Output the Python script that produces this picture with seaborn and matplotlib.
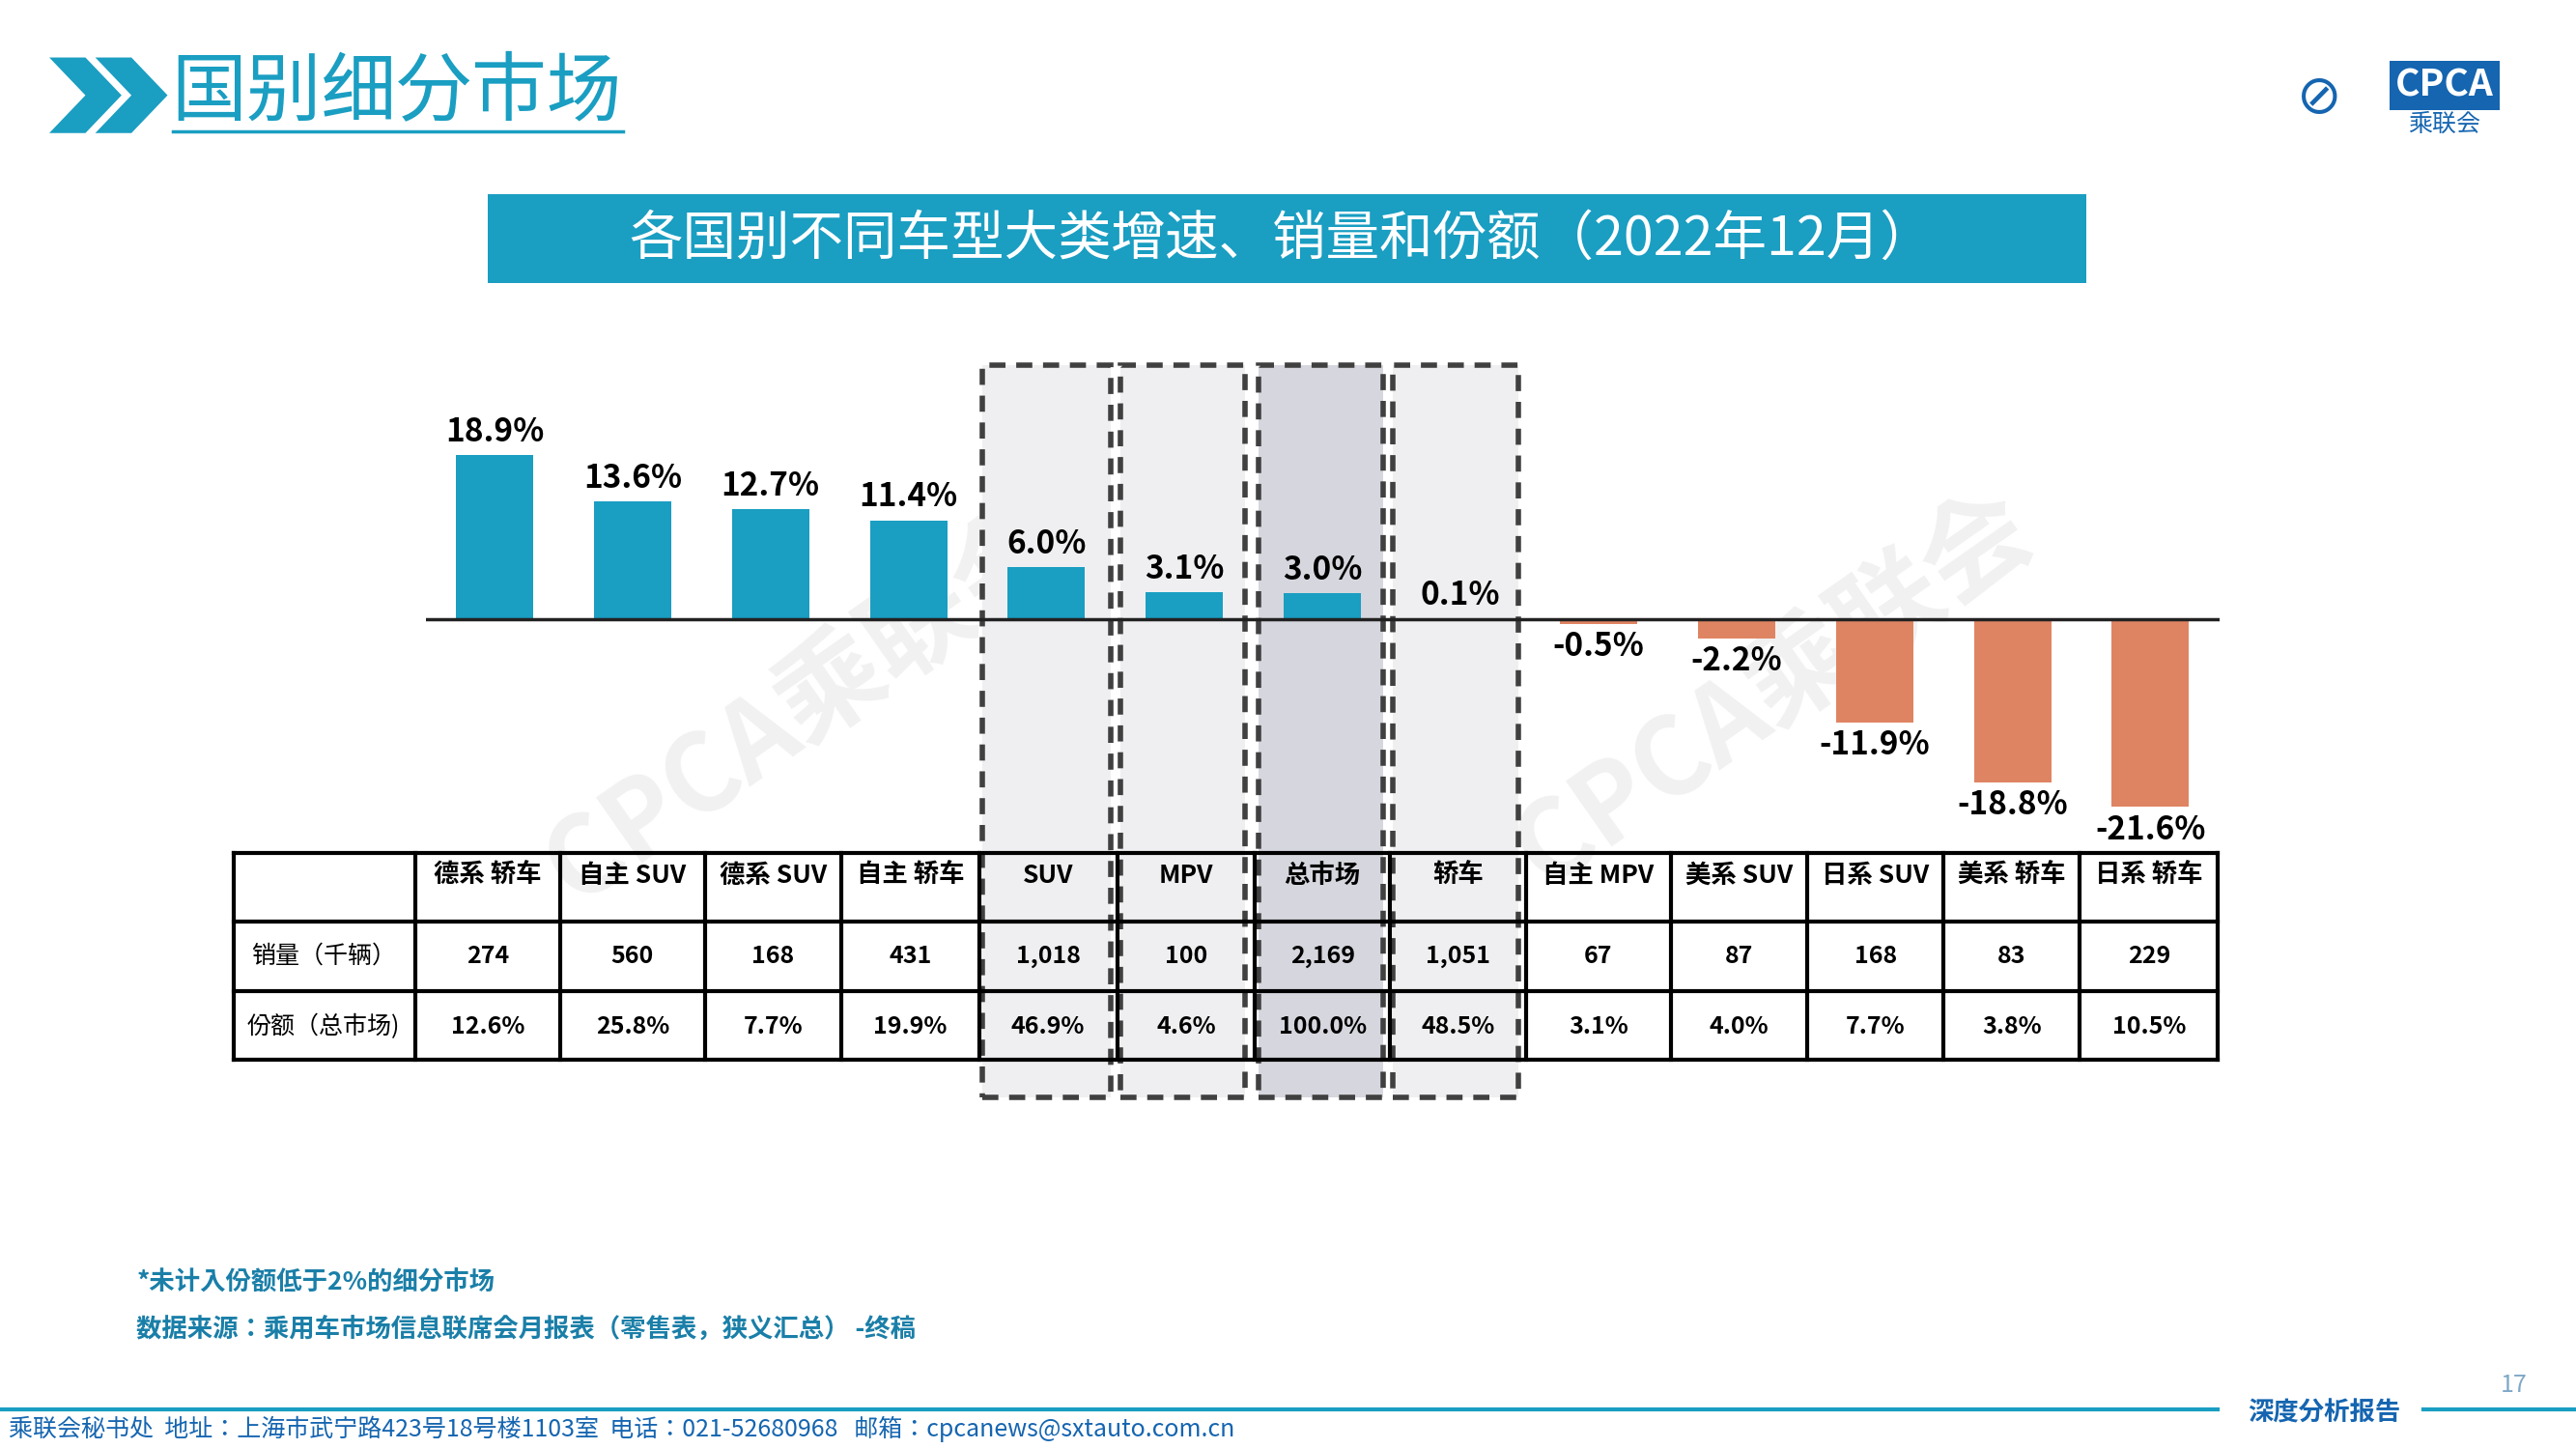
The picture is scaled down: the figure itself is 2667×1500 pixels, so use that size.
import matplotlib
matplotlib.use("Agg")
import matplotlib.pyplot as plt
import matplotlib.font_manager as fm
import seaborn as sns
import pandas as pd
from matplotlib.patches import Rectangle, Polygon
from matplotlib.lines import Line2D

cjk_names = []
for f in fm.findSystemFonts():
    if "cjk" in f.lower() and "serif" not in f.lower():
        try:
            fm.fontManager.addfont(f)
            n = fm.FontProperties(fname=f).get_name()
            if n not in cjk_names and "Serif" not in n:
                cjk_names.append(n)
        except Exception:
            pass
pref = [n for n in cjk_names if "Sans" in n and "SC" in n] + [n for n in cjk_names if "Sans" in n]
plt.rcParams["font.family"] = "sans-serif"
plt.rcParams["font.sans-serif"] = pref + ["Noto Sans CJK SC", "DejaVu Sans"]

categories = ["德系 轿车", "自主 SUV", "德系 SUV", "自主 轿车", "SUV", "MPV", "总市场", "轿车",
              "自主 MPV", "美系 SUV", "日系 SUV", "美系 轿车", "日系 轿车"]
growth = [18.9, 13.6, 12.7, 11.4, 6.0, 3.1, 3.0, 0.1, -0.5, -2.2, -11.9, -18.8, -21.6]
sales = ["274", "560", "168", "431", "1,018", "100", "2,169", "1,051", "67", "87", "168", "83", "229"]
share = ["12.6%", "25.8%", "7.7%", "19.9%", "46.9%", "4.6%", "100.0%", "48.5%", "3.1%", "4.0%", "7.7%", "3.8%", "10.5%"]
row_labels = ["销量（千辆）", "份额（总市场)"]

W, H = 1568, 882
def fx(p): return p / W
def fy(p): return 1 - p / H

TEAL = "#1A9EC2"
ORANGE = "#DF8462"

fig = plt.figure(figsize=(26.67, 15), dpi=100)

boxes = [(598, 676, "#EFEFF1"), (682, 758, "#EFEFF1"), (766, 842, "#D6D6DE"), (848, 924, "#EFEFF1")]
for x0, x1, c in boxes:
    fig.add_artist(Rectangle((fx(x0), fy(668)), fx(x1) - fx(x0), fy(222) - fy(668),
                             transform=fig.transFigure, facecolor=c, edgecolor="#404040",
                             lw=4, ls=(0, (3, 2)), zorder=0))

ax = fig.add_axes([fx(259), fy(515), fx(1351) - fx(259), fy(230) - fy(515)])
ax.patch.set_alpha(0)
df = pd.DataFrame({"cat": categories, "g": growth})
colors = [TEAL if v >= 0 else ORANGE for v in growth]
sns.barplot(data=df, x="cat", y="g", hue="cat", palette=colors, legend=False, ax=ax, width=0.56, saturation=1)
ax.set_xlim(-0.5, 12.5)
ax.set_ylim(-26.1, 27.8)
ax.axhline(0, color="#222222", lw=2.5)
for i, v in enumerate(growth):
    if v >= 0:
        ax.text(i, v + 0.8, f"{v:.1f}%", ha="center", va="bottom", fontsize=24, fontweight="bold")
    else:
        ax.text(i, v - 0.8, f"{v:.1f}%", ha="center", va="top", fontsize=24, fontweight="bold")
ax.axis("off")

cols = [142, 253, 341, 429, 512, 596, 680, 764, 846, 929, 1017, 1100, 1183, 1266, 1350]
rows = [519, 561, 603, 645]
for r in rows:
    fig.add_artist(Line2D([fx(142), fx(1350)], [fy(r), fy(r)], color="black", lw=3))
for c in cols:
    fig.add_artist(Line2D([fx(c), fx(c)], [fy(519), fy(645)], color="black", lw=3))
for i, cat in enumerate(categories):
    xc = fx((cols[i + 1] + cols[i + 2]) / 2)
    fig.text(xc, fy(533), cat, ha="center", va="center", fontsize=19, fontweight="bold")
    fig.text(xc, fy(582), sales[i], ha="center", va="center", fontsize=18, fontweight="bold")
    fig.text(xc, fy(625), share[i], ha="center", va="center", fontsize=18, fontweight="bold")
fig.text(fx(197), fy(582), row_labels[0], ha="center", va="center", fontsize=18)
fig.text(fx(197), fy(625), row_labels[1], ha="center", va="center", fontsize=18)

fig.add_artist(Rectangle((fx(297), fy(172)), fx(1270) - fx(297), fy(118) - fy(172),
                         transform=fig.transFigure, facecolor=TEAL, edgecolor="none"))
fig.text(fx(780), fy(146), "各国别不同车型大类增速、销量和份额（2022年12月）", ha="center", va="center",
         fontsize=40, color="white")

for x0 in (30, 58):
    fig.add_artist(Polygon([(fx(x0), fy(35)), (fx(x0 + 22), fy(35)), (fx(x0 + 44), fy(58)),
                            (fx(x0 + 22), fy(81)), (fx(x0), fy(81)), (fx(x0 + 22), fy(58))],
                           closed=True, transform=fig.transFigure, facecolor=TEAL, edgecolor="none"))
fig.text(fx(104), fy(57), "国别细分市场", ha="left", va="center", fontsize=56, color=TEAL)
fig.add_artist(Line2D([fx(105), fx(379)], [fy(80), fy(80)], color=TEAL, lw=2.5))

fig.text(fx(1488), fy(52), "CPCA", ha="center", va="center", fontsize=28, color="white",
         fontweight="bold", fontstyle="italic",
         bbox=dict(boxstyle="square,pad=0.15", fc="#1565B0", ec="none"))
fig.text(fx(1488), fy(76), "乘联会", ha="center", va="center", fontsize=18, color="#1565B0")
fig.text(fx(1412), fy(60), "⊘", ha="center", va="center", fontsize=40, color="#1565B0", family="DejaVu Sans")

for x, y in ((490, 430), (1080, 420)):
    fig.text(fx(x), fy(y), "CPCA乘联会", ha="center", va="center", fontsize=80, color="#E8E8E8",
             rotation=35, fontweight="bold", zorder=-1, alpha=0.6)

fig.text(fx(83), fy(781), "*未计入份额低于2%的细分市场", fontsize=19, color="#1A7FA8", fontweight="bold", va="center")
fig.text(fx(83), fy(810), "数据来源：乘用车市场信息联席会月报表（零售表，狭义汇总） -终稿", fontsize=19,
         color="#1A7FA8", fontweight="bold", va="center")

fig.add_artist(Line2D([fx(0), fx(1350)], [fy(858), fy(858)], color=TEAL, lw=3))
fig.add_artist(Line2D([fx(1475), fx(1568)], [fy(858), fy(858)], color=TEAL, lw=3))
fig.text(fx(1415), fy(860), "深度分析报告", ha="center", va="center", fontsize=19, color="#1565B0", fontweight="bold")
fig.text(fx(1530), fy(843), "17", ha="center", va="center", fontsize=18, color="#7FA8C8")
fig.text(fx(5), fy(870), "乘联会秘书处  地址：上海市武宁路423号18号楼1103室  电话：021-52680968   邮箱：cpcanews@sxtauto.com.cn",
         ha="left", va="center", fontsize=18, color="#1565B0")

fig.savefig("out.png", dpi=100)
